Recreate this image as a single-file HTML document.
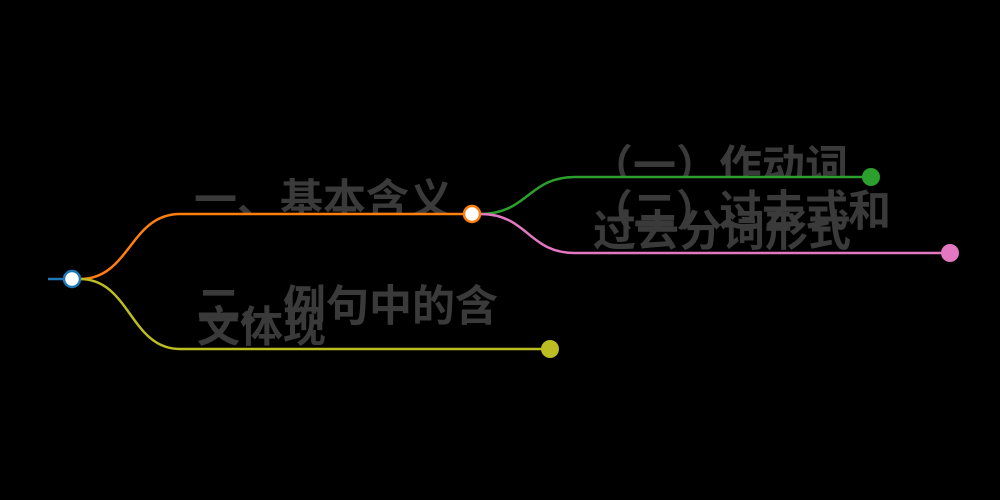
<!DOCTYPE html>
<html><head><meta charset="utf-8"><style>
html,body{margin:0;padding:0;background:#000;width:1000px;height:500px;overflow:hidden;position:relative}
.c{position:absolute;overflow:hidden}
.t{position:absolute;font-family:"Liberation Sans","Noto Sans CJK SC",sans-serif;font-weight:bold;color:#3a3a3a;font-size:43px;white-space:nowrap;line-height:43px}
</style></head><body>
<div class="c" style="left:190px;top:170px;width:280px;height:43px"><span class="t" style="left:4px;top:10px">一、基本含义</span></div>
<div class="c" style="left:590px;top:140px;width:280px;height:37px"><span class="t" style="left:0px;top:6px">（一）作动词</span></div>
<div class="c" style="left:590px;top:185px;width:320px;height:50px"><span class="t" style="left:0px;top:6px">（二）过去式和</span></div>
<div class="c" style="left:590px;top:205px;width:300px;height:48px"><span class="t" style="left:3px;top:6px">过去分词形式</span></div>
<div class="c" style="left:195px;top:280px;width:320px;height:50px"><span class="t" style="left:2px;top:6px">二、例句中的含</span></div>
<div class="c" style="left:195px;top:300px;width:200px;height:49px"><span class="t" style="left:2px;top:7px">文体现</span></div>
<svg width="1000" height="500" style="position:absolute;left:0;top:0">
<line x1="48" y1="279" x2="64" y2="279" stroke="#1f77b4" stroke-width="2.5"/>
<path d="M80 279 C130 279 130 214 180 214 L465 214" stroke="#ff7f0e" stroke-width="2.5" fill="none"/>
<path d="M80 279 C130 279 130 349 180 349 L550 349" stroke="#bcbd22" stroke-width="2.5" fill="none"/>
<path d="M480 214 C528 214 528 177 575 177 L870 177" stroke="#2ca02c" stroke-width="2.5" fill="none"/>
<path d="M480 214 C528 214 528 253 575 253 L950 253" stroke="#e377c2" stroke-width="2.5" fill="none"/>
<circle cx="72" cy="279" r="8" fill="#fff" stroke="#1f77b4" stroke-width="2.5"/>
<circle cx="472" cy="214" r="8" fill="#fff" stroke="#ff7f0e" stroke-width="2.5"/>
<circle cx="871" cy="177" r="9" fill="#2ca02c"/>
<circle cx="950" cy="253" r="9" fill="#e377c2"/>
<circle cx="550" cy="349" r="9" fill="#bcbd22"/>
</svg>
</body></html>
